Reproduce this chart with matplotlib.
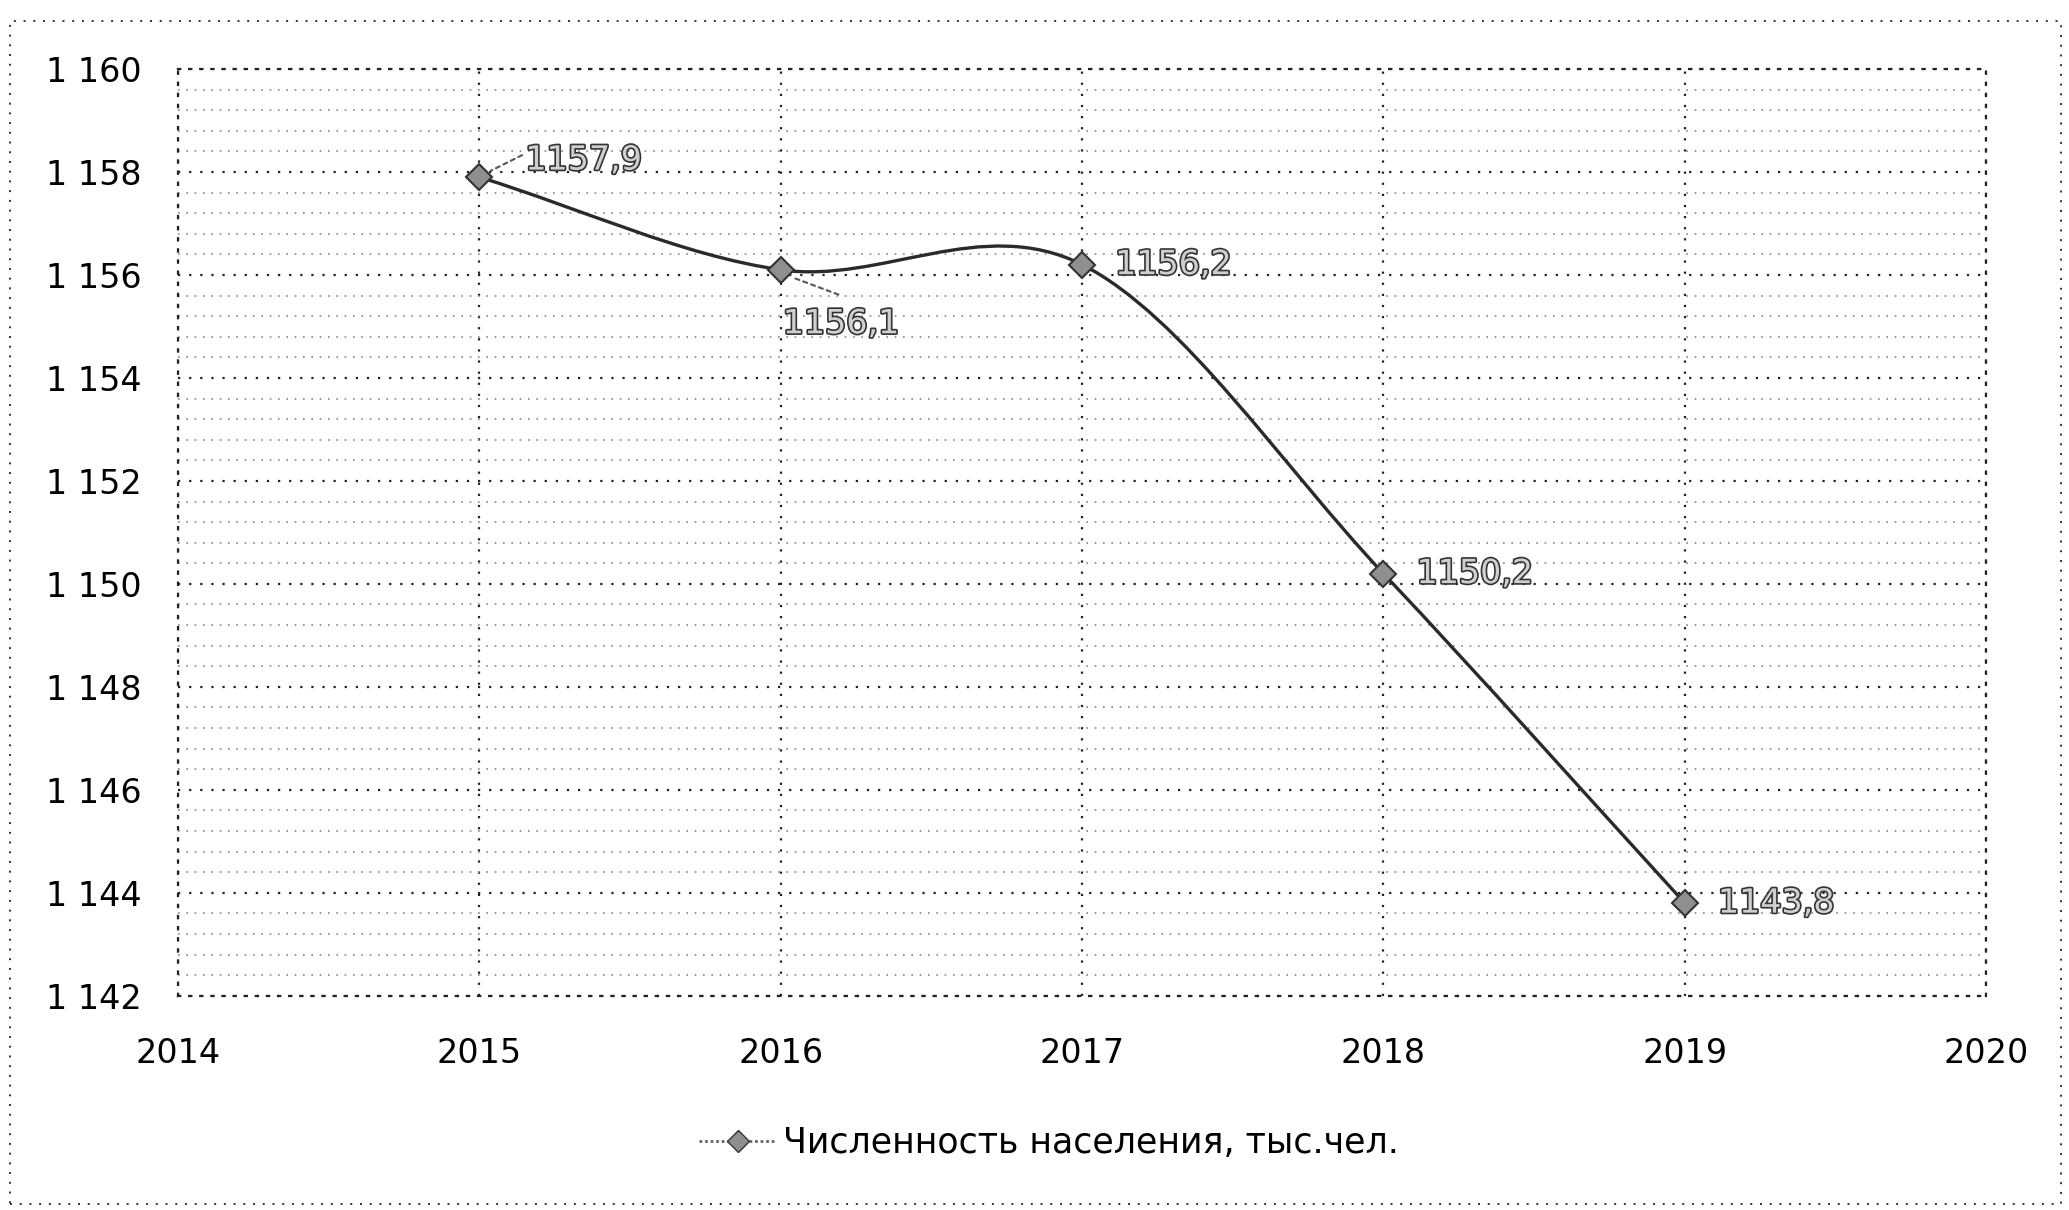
import numpy as np
import matplotlib
matplotlib.use("Agg")
import matplotlib.pyplot as plt
import matplotlib.patheffects as pe
from matplotlib.path import Path
from matplotlib.patches import PathPatch, Rectangle
from matplotlib.lines import Line2D
from matplotlib.ticker import MultipleLocator, FuncFormatter

years = [2015, 2016, 2017, 2018, 2019]
population = [1157.9, 1156.1, 1156.2, 1150.2, 1143.8]
value_labels = ["1157,9", "1156,1", "1156,2", "1150,2", "1143,8"]
series_name = "Численность населения, тыс.чел."

plt.rcParams['font.family'] = ['DejaVu Sans']
FS = 24

fig = plt.figure(figsize=(20.69, 12.10), dpi=100)
ax = fig.add_axes([0.086, 0.177, 0.874, 0.766])

ax.set_xlim(2014, 2020)
ax.set_ylim(1142, 1160)
ax.xaxis.set_major_locator(MultipleLocator(1))
ax.yaxis.set_major_locator(MultipleLocator(2))
ax.yaxis.set_minor_locator(MultipleLocator(0.4))
ax.yaxis.set_major_formatter(FuncFormatter(lambda v, p: f"{int(round(v)):,}".replace(",", " ")))
ax.tick_params(axis='both', which='both', length=0, labelsize=FS)
ax.tick_params(axis='x', pad=30)
ax.tick_params(axis='y', pad=26)

dots = (0, (1, 4))
ax.grid(which='major', axis='both', linestyle=dots, color='#222222', lw=1.6)
ax.grid(which='minor', axis='y', linestyle=dots, color='#888888', lw=1.2)
for s in ax.spines.values():
    s.set_linestyle(dots)
    s.set_color('#222222')
    s.set_linewidth(1.6)

# smoothed line: cubic Bezier segments, Catmull-Rom control points
x = np.array(years, dtype=float)
y = np.array(population, dtype=float)
n = len(x)
tx = np.zeros(n)
ty = np.zeros(n)
for i in range(n):
    a = max(i - 1, 0)
    b = min(i + 1, n - 1)
    k = 0.5 if (a != i and b != i) else 1.0
    tx[i] = (x[b] - x[a]) * k
    ty[i] = (y[b] - y[a]) * k
verts = [(x[0], y[0])]
codes = [Path.MOVETO]
for i in range(n - 1):
    verts += [(x[i] + tx[i] / 3, y[i] + ty[i] / 3),
              (x[i + 1] - tx[i + 1] / 3, y[i + 1] - ty[i + 1] / 3),
              (x[i + 1], y[i + 1])]
    codes += [Path.CURVE4] * 3
ax.add_patch(PathPatch(Path(verts, codes), facecolor='none', edgecolor='#2a2a2a', lw=2.4, zorder=3))

ax.plot(years, population, linestyle='none', marker='D', markersize=13,
        markerfacecolor='#8f8f8f', markeredgecolor='#333333', markeredgewidth=1.5, zorder=4)

# data labels (outlined text)
hollow = [pe.withStroke(linewidth=2.4, foreground='#333333')]
offsets = [(46, 17), (2, -54), (33, 0), (33, 0), (33, 0)]
for xv, yv, lab, (dx, dy) in zip(years, population, value_labels, offsets):
    ax.annotate(lab, (xv, yv), xytext=(dx * 0.72, dy * 0.72), textcoords='offset points',
                ha='left', va='center', fontsize=FS, color='#cfcfcf', path_effects=hollow, zorder=5)
# leader lines
ax.annotate("", (2015.03, 1158.0), xytext=(2015.15, 1158.35),
            arrowprops=dict(arrowstyle='-', color='#555555', lw=1.5, linestyle=(0, (2, 2))))
ax.annotate("", (2016.04, 1155.95), xytext=(2016.2, 1155.6),
            arrowprops=dict(arrowstyle='-', color='#555555', lw=1.5, linestyle=(0, (2, 2))))

handle = Line2D([], [], color='#666666', lw=2, linestyle=(0, (1, 1)), marker='D', markersize=11,
                markerfacecolor='#8f8f8f', markeredgecolor='#333333')
fig.legend([handle], [series_name], loc='center', bbox_to_anchor=(0.507, 0.055),
           frameon=False, fontsize=FS + 1, handlelength=2.2, handletextpad=0.2)

# outer chart border
fig.patches.append(Rectangle((0.005, 0.005), 0.991, 0.978, transform=fig.transFigure,
                             fill=False, linestyle=dots, edgecolor='#333333', lw=1.4))

fig.savefig("out.png", dpi=100)
